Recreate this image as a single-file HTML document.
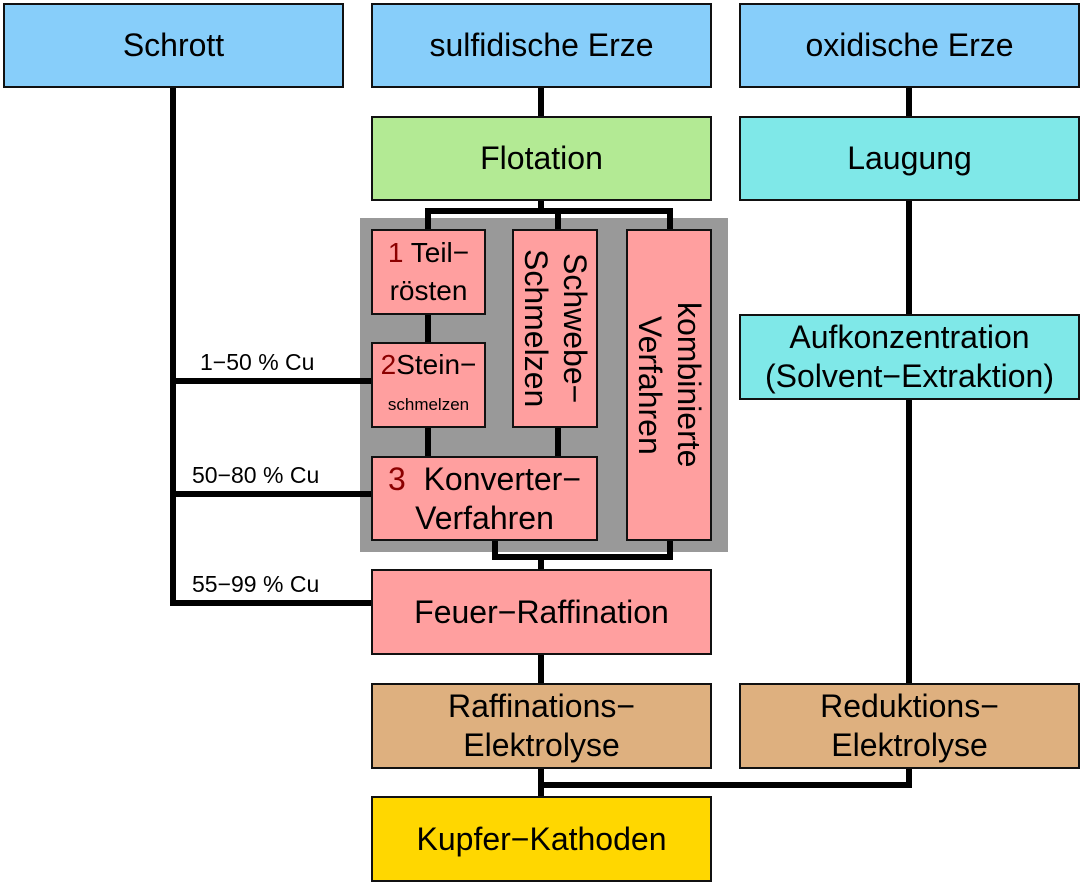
<!DOCTYPE html>
<html><head><meta charset="utf-8"><style>
body{margin:0;background:#fff;width:1082px;height:884px;position:relative;overflow:hidden;font-family:"Liberation Sans",sans-serif}
.b{position:absolute;box-sizing:border-box;border:2px solid #111;display:flex;align-items:center;justify-content:center;text-align:center;font-size:32px;line-height:39px;color:#000;white-space:nowrap}
.l{position:absolute;background:#000}
.r{color:#8b0000}
.lab{position:absolute;font-size:23px}
.v{writing-mode:vertical-rl}
</style></head><body>
<div style="position:absolute;left:360px;top:218px;width:368px;height:334px;background:#999"></div>
<div class="l" style="left:170px;top:87px;width:6px;height:519px"></div>
<div class="l" style="left:170px;top:378px;width:201px;height:6px"></div>
<div class="l" style="left:170px;top:491px;width:201px;height:6px"></div>
<div class="l" style="left:170px;top:600px;width:201px;height:6px"></div>
<div class="l" style="left:538px;top:87px;width:6px;height:29px"></div>
<div class="l" style="left:538px;top:200px;width:6px;height:11px"></div>
<div class="l" style="left:425px;top:208px;width:248px;height:6px"></div>
<div class="l" style="left:425px;top:208px;width:6px;height:21px"></div>
<div class="l" style="left:555px;top:208px;width:6px;height:21px"></div>
<div class="l" style="left:667px;top:208px;width:6px;height:21px"></div>
<div class="l" style="left:425px;top:314px;width:6px;height:29px"></div>
<div class="l" style="left:425px;top:427px;width:6px;height:29px"></div>
<div class="l" style="left:555px;top:427px;width:6px;height:29px"></div>
<div class="l" style="left:492px;top:540px;width:6px;height:20px"></div>
<div class="l" style="left:667px;top:540px;width:6px;height:20px"></div>
<div class="l" style="left:492px;top:554px;width:181px;height:6px"></div>
<div class="l" style="left:538px;top:554px;width:6px;height:15px"></div>
<div class="l" style="left:538px;top:654px;width:6px;height:29px"></div>
<div class="l" style="left:538px;top:768px;width:6px;height:28px"></div>
<div class="l" style="left:906px;top:87px;width:6px;height:29px"></div>
<div class="l" style="left:906px;top:200px;width:6px;height:114px"></div>
<div class="l" style="left:906px;top:399px;width:6px;height:284px"></div>
<div class="l" style="left:906px;top:768px;width:6px;height:20px"></div>
<div class="l" style="left:538px;top:782px;width:374px;height:6px"></div>
<div class="lab" style="left:200px;top:349px">1−50 % Cu</div>
<div class="lab" style="left:192px;top:462px">50−80 % Cu</div>
<div class="lab" style="left:192px;top:571px">55−99 % Cu</div>
<div class="b" style="left:3px;top:3px;width:341px;height:85px;background:#87cefa">Schrott</div>
<div class="b" style="left:371px;top:3px;width:341px;height:85px;background:#87cefa">sulfidische Erze</div>
<div class="b" style="left:739px;top:3px;width:341px;height:85px;background:#87cefa">oxidische Erze</div>
<div class="b" style="left:371px;top:116px;width:341px;height:85px;background:#b3ea94">Flotation</div>
<div class="b" style="left:739px;top:116px;width:341px;height:85px;background:#7fe8e8">Laugung</div>
<div class="b" style="left:739px;top:314px;width:341px;height:86px;background:#7fe8e8">Aufkonzentration<br>(Solvent−Extraktion)</div>
<div class="b" style="left:371px;top:229px;width:115px;height:86px;background:#ff9f9f;font-size:28px;line-height:38px"><div><span class="r">1</span> Teil−<br>rösten</div></div>
<div class="b" style="left:371px;top:342px;width:115px;height:86px;background:#ff9f9f;font-size:28px;line-height:36px"><div><span class="r">2</span>Stein−<br><span style="font-size:17px">schmelzen</span></div></div>
<div class="b" style="left:371px;top:456px;width:227px;height:85px;background:#ff9f9f"><div><span class="r">3</span>&nbsp; Konverter−<br>Verfahren</div></div>
<div class="b" style="left:512px;top:229px;width:86px;height:199px;background:#ff9f9f"><div class="v">Schwebe−<br>Schmelzen</div></div>
<div class="b" style="left:626px;top:229px;width:86px;height:312px;background:#ff9f9f"><div class="v">kombinierte<br>Verfahren</div></div>
<div class="b" style="left:371px;top:569px;width:341px;height:86px;background:#ff9f9f">Feuer−Raffination</div>
<div class="b" style="left:371px;top:683px;width:341px;height:86px;background:#deb07f">Raffinations−<br>Elektrolyse</div>
<div class="b" style="left:739px;top:683px;width:341px;height:86px;background:#deb07f">Reduktions−<br>Elektrolyse</div>
<div class="b" style="left:371px;top:796px;width:341px;height:86px;background:#ffd700">Kupfer−Kathoden</div>
</body></html>
